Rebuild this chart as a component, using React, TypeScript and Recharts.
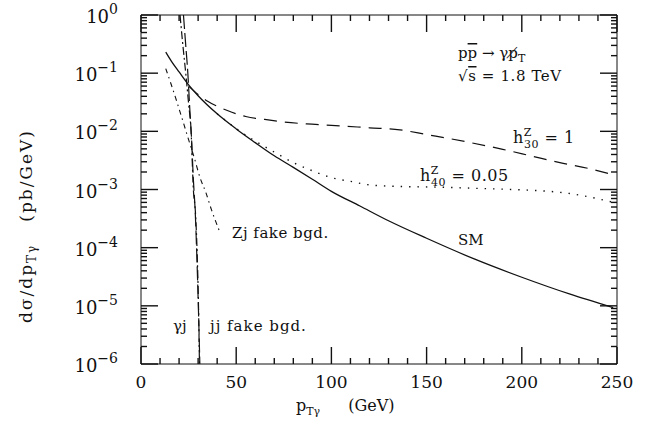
import React from "react"
import { LineChart, Line, XAxis, YAxis } from "recharts"

// SM (solid)
const smX = [13, 16, 20, 25, 30, 40, 50, 60, 70, 80, 90, 100, 115, 130, 150, 175, 200, 225, 248]
const smY = [0.23, 0.16, 0.105, 0.063, 0.041, 0.02, 0.011, 0.0064, 0.0038, 0.0024, 0.0015, 9.3e-4, 5.2e-4, 2.9e-4, 1.45e-4, 6.4e-5, 3.1e-5, 1.6e-5, 9.3e-6]

// h30^Z = 1 (dashed)
const h30X = [25, 30, 35, 45, 55, 65, 75, 87, 100, 120, 136, 150, 171, 190, 206, 220, 235, 248]
const h30Y = [0.06, 0.043, 0.033, 0.023, 0.018, 0.016, 0.0145, 0.0134, 0.0127, 0.0115, 0.0106, 0.0088, 0.0066, 0.0049, 0.0037, 0.0029, 0.0023, 0.0018]

// h40^Z = 0.05 (dotted)
const h40X = [40, 50, 60, 70, 80, 90, 100, 110, 120, 135, 155, 175, 195, 210, 222, 235, 248]
const h40Y = [0.02, 0.0112, 0.0068, 0.0044, 0.0029, 0.0021, 0.0016, 0.00138, 0.0012, 0.00113, 0.0011, 0.00105, 0.001, 0.00095, 0.00088, 0.00075, 0.0006]

// Zj fake background (dash-dot)
const zjX = [13, 16, 19, 22, 25, 28, 31, 34, 37, 41]
const zjY = [0.12, 0.062, 0.031, 0.015, 0.0072, 0.0035, 0.0016, 9e-4, 4.5e-4, 2e-4]

// gamma j and jj fake backgrounds
const gjX = [20.5, 22, 23.5, 25, 26.3, 27.5, 28.6, 29.5, 30.2, 30.7]
const gjY = [1, 0.3, 0.1, 0.03, 0.01, 0.001, 4e-4, 8e-5, 1e-5, 1e-6]
const jjX = [22.3, 23.5, 24.6, 25.6, 26.5, 27.5, 28.5, 29.4, 30.2, 30.9]
const jjY = [1, 0.3, 0.1, 0.025, 0.008, 0.0015, 4e-4, 6e-5, 8e-6, 1e-6]

const xTicks = [0, 10, 20, 30, 40, 50, 60, 70, 80, 90, 100, 110, 120, 130, 140, 150, 160, 170, 180, 190, 200, 210, 220, 230, 240, 250]
const decades = [-6, -5, -4, -3, -2, -1, 0]
const minors = [2, 3, 4, 5, 6, 7, 8, 9]

const yTicks: number[] = []
decades.forEach((d) => {
  yTicks.push(Math.pow(10, d))
  if (d < 0) minors.forEach((m) => yTicks.push(m * Math.pow(10, d)))
})

const pts = (xs: number[], ys: number[]) => xs.map((x, i) => ({ x, y: ys[i] }))

const W = 657
const H = 423
const TOP_H = 15
const BOTTOM_H = 59
const LEFT_W = 141
const RIGHT_W = 40
const PLOT_W = W - LEFT_W - RIGHT_W
const PLOT_H = H - TOP_H - BOTTOM_H

const FONT = "'DejaVu Serif', serif"
const INK = "#111"

const isDecade = (v: number) => Math.abs(Math.log10(v) - Math.round(Math.log10(v))) < 1e-6

// frame tick positions (same linear / log mapping as the axes)
const tx = (v: number) => LEFT_W + (v / 250) * PLOT_W
const ty = (v: number) => TOP_H + (-Math.log10(v) / 6) * PLOT_H

const BottomTick = (props: any) => {
  const x = Number(props.x)
  const y = Number(props.y)
  if (props.payload.value % 50 !== 0) return <g />
  return (
    <text x={x} y={y + 24} textAnchor="middle" fontSize={17} fontFamily={FONT} fill={INK}>
      {props.payload.value}
    </text>
  )
}

const LeftTick = (props: any) => {
  const x = Number(props.x)
  const y = Number(props.y)
  if (!isDecade(props.payload.value)) return <g />
  const exp = Math.round(Math.log10(props.payload.value))
  return (
    <text x={x - 23} y={y + 8} textAnchor="end" fontSize={18} fontFamily={FONT} fill={INK}>
      10
      <tspan dy={-9} fontSize={14}>
        {exp < 0 ? `\u2212${-exp}` : `${exp}`}
      </tspan>
    </text>
  )
}

export default function App() {
  return (
    <div style={{ position: "absolute", left: 0, top: 0, width: W, height: H, background: "#fff" }}>
      <LineChart width={W} height={H} margin={{ top: 0, right: 0, bottom: 0, left: 0 }}>
        <XAxis dataKey="x" type="number" domain={[0, 250]} ticks={xTicks} interval={0} height={BOTTOM_H} tickSize={0} tickMargin={0} stroke={INK} tick={BottomTick} />
        <XAxis xAxisId="top" orientation="top" dataKey="x" type="number" domain={[0, 250]} height={TOP_H} tickSize={0} stroke={INK} tick={false} />
        <YAxis type="number" scale="log" domain={[1e-6, 1]} allowDataOverflow ticks={yTicks} interval={0} width={LEFT_W} tickSize={0} tickMargin={0} stroke={INK} tick={LeftTick} />
        <YAxis yAxisId="right" orientation="right" type="number" scale="log" domain={[1e-6, 1]} allowDataOverflow width={RIGHT_W} tickSize={0} stroke={INK} tick={false} />
        <Line data={pts(smX, smY)} dataKey="y" type="monotone" dot={false} stroke={INK} strokeWidth={1.3} isAnimationActive={false} />
        <Line data={pts(h30X, h30Y)} dataKey="y" type="monotone" dot={false} stroke={INK} strokeWidth={1.2} strokeDasharray="13 8" isAnimationActive={false} />
        <Line data={pts(h40X, h40Y)} dataKey="y" type="monotone" dot={false} stroke={INK} strokeWidth={1.4} strokeDasharray="1.4 7" isAnimationActive={false} />
        <Line data={pts(zjX, zjY)} dataKey="y" type="monotone" dot={false} stroke={INK} strokeWidth={1.1} strokeDasharray="5 4 1.5 4" isAnimationActive={false} />
        <Line data={pts(gjX, gjY)} dataKey="y" type="monotone" dot={false} stroke={INK} strokeWidth={1.2} strokeDasharray="8 3 2 3" isAnimationActive={false} />
        <Line data={pts(jjX, jjY)} dataKey="y" type="monotone" dot={false} stroke={INK} strokeWidth={1.2} strokeDasharray="14 4" isAnimationActive={false} />
      </LineChart>
      <svg width={W} height={H} style={{ position: "absolute", left: 0, top: 0, pointerEvents: "none", whiteSpace: "pre" }} fontFamily={FONT} fill={INK}>
        <g stroke={INK} strokeWidth={1.4}>
          {xTicks.map((v) => {
            const len = v % 50 === 0 ? 17 : 6
            const x = tx(v)
            return (
              <g key={`x${v}`}>
                <line x1={x} y1={TOP_H + PLOT_H} x2={x} y2={TOP_H + PLOT_H - len} />
                <line x1={x} y1={TOP_H} x2={x} y2={TOP_H + len} />
              </g>
            )
          })}
          {yTicks.map((v) => {
            const len = isDecade(v) ? 17 : 6
            const y = ty(v)
            return (
              <g key={`y${v}`}>
                <line x1={LEFT_W} y1={y} x2={LEFT_W + len} y2={y} />
                <line x1={LEFT_W + PLOT_W} y1={y} x2={LEFT_W + PLOT_W - len} y2={y} />
              </g>
            )
          })}
        </g>
        <text x={458} y={58} fontSize={15}>
          p<tspan style={{ textDecoration: "overline" }}>p</tspan>{"  \u2192  \u03b3p\u0338"}
          <tspan dy={4} fontSize={11}>T</tspan>
        </text>
        <text x={458} y={81} fontSize={15} letterSpacing={0.6}>
          {"\u221a"}<tspan style={{ textDecoration: "overline" }}>s</tspan>{"  =  1.8  TeV"}
        </text>
        <text x={513} y={143} fontSize={16} letterSpacing={0.5}>
          h<tspan dy={-7} fontSize={11}>Z</tspan>
          <tspan dx={-8} dy={12} fontSize={11}>30</tspan>
          <tspan dy={-5}>{"   =  1"}</tspan>
        </text>
        <text x={420} y={181} fontSize={16} letterSpacing={0.5}>
          h<tspan dy={-7} fontSize={11}>Z</tspan>
          <tspan dx={-8} dy={12} fontSize={11}>40</tspan>
          <tspan dy={-5}>{"   =  0.05"}</tspan>
        </text>
        <text x={458} y={245} fontSize={15}>SM</text>
        <text x={232} y={238} fontSize={15} letterSpacing={0.5}>Zj fake bgd.</text>
        <text x={173} y={331} fontSize={15}>{"\u03b3j"}</text>
        <text x={210} y={331} fontSize={15} letterSpacing={1}>jj fake bgd.</text>
        <text x={296} y={411} fontSize={16}>
          p<tspan dy={4} fontSize={11}>T{"\u03b3"}</tspan>
          <tspan dx={28} dy={-4}>(GeV)</tspan>
        </text>
        <text x={32} y={226} fontSize={17} textAnchor="middle" transform="rotate(-90 32 226)" letterSpacing={2}>
          d{"\u03c3"}/dp<tspan dy={4} fontSize={12}>T{"\u03b3"}</tspan>
          <tspan dx={22} dy={-4}>(pb/GeV)</tspan>
        </text>
      </svg>
    </div>
  )
}
